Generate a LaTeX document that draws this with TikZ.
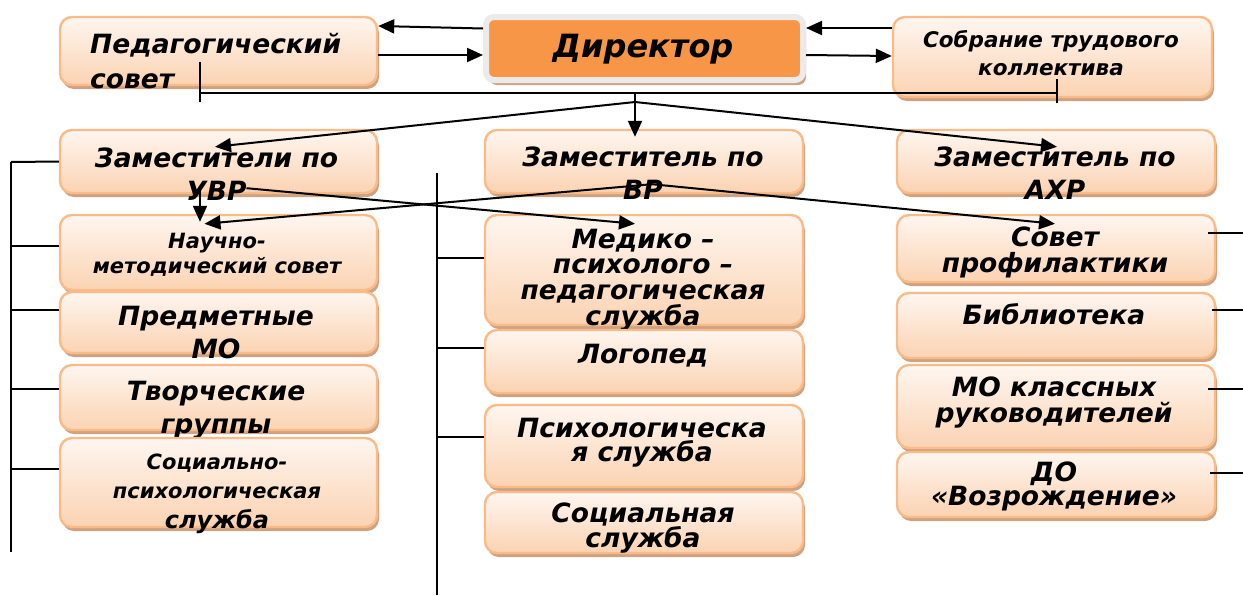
\documentclass[tikz,border=0pt]{standalone}
\usepackage{fontspec}
\setmainfont{DejaVu Sans}[ItalicFont={DejaVu Sans Oblique},BoldFont={DejaVu Sans Bold},BoldItalicFont={DejaVu Sans Bold Oblique}]
\usetikzlibrary{arrows.meta,calc,fit,shadows}
\definecolor{boxtop}{HTML}{FEF6F0}
\definecolor{boxbot}{HTML}{FBD3B2}
\definecolor{boxline}{HTML}{F9BC88}
\definecolor{boxshadow}{HTML}{CFA282}
\definecolor{dirfill}{HTML}{F79646}
\definecolor{dirframe}{HTML}{EBEBEB}
\newcommand\mlc[2]{\vtop{\baselineskip=#1pt\lineskiplimit=-100pt\halign{\hfil##\hfil\cr#2\crcr}}}
\newcommand\mll[2]{\vtop{\baselineskip=#1pt\lineskiplimit=-100pt\halign{##\hfil\cr#2\crcr}}}
\newcommand\fz[1]{\bfseries\itshape\fontsize{#1}{#1}\selectfont}
\tikzset{
  obox/.style={draw=boxline, line width=2.4pt, rounded corners=12pt, top color=boxtop, bottom color=boxbot, inner sep=0pt,
    drop shadow={shadow xshift=2pt, shadow yshift=-4pt, fill=boxshadow, opacity=1}},
  dirbox/.style={draw=dirframe, line width=6pt, fill=dirfill, rounded corners=8pt, inner sep=0pt,
    drop shadow={shadow xshift=3pt, shadow yshift=-5pt, fill=boxshadow, opacity=1}},
  lbl/.style={inner sep=0pt, anchor=base, text=black},
  conn/.style={line width=2pt, draw=black},
  arr/.style={conn, -{Triangle[length=16pt,width=14pt]}}
}
\begin{document}
\begin{tikzpicture}[x=1pt,y=-1pt]
\fill[white] (0,0) rectangle (1243,595);
\useasboundingbox (0,0) rectangle (1243,595);
% top row
\node[obox, fit={(60,17)(377,85)}] (ped) {};
\node[lbl, anchor=base west] (pedt) at (90,53) {\fz{26.5}\mll{35}{Педагогический\cr совет}};
\node[dirbox, fit={(486,17)(803,80)}] (dir) {};
\node[lbl] (dirt) at (643,57) {\fz{32}Директор};
\node[obox, fit={(893,17)(1212,97)}] (sob) {};
\node[lbl] (sobt) at (1051,47) {\fz{21.5}\mlc{28}{Собрание трудового\cr коллектива}};
% second row
\node[obox, fit={(60,130)(377,193)}] (zuvr) {};
\node[lbl] (zuvrt) at (216.5,167) {\fz{26.5}\mlc{33}{Заместители по\cr УВР}};
\node[obox, fit={(485,130)(803,193)}] (zvr) {};
\node[lbl] (zvrt) at (643,166) {\fz{26.5}\mlc{33}{Заместитель по\cr ВР}};
\node[obox, fit={(897,130)(1215,193)}] (zahr) {};
\node[lbl] (zahrt) at (1055,166) {\fz{26.5}\mlc{33}{Заместитель по\cr АХР}};
% left column
\node[obox, fit={(60,215)(377,290)}] (nmc) {};
\node[lbl] (nmct) at (217,248) {\fz{21}\mlc{25}{Научно-\cr методический совет}};
\node[obox, fit={(60,292)(377,353)}] (pmo) {};
\node[lbl] (pmot) at (216,325) {\fz{26.5}\mlc{33}{Предметные\cr МО}};
\node[obox, fit={(60,365)(377,430)}] (tvg) {};
\node[lbl] (tvgt) at (216,400) {\fz{26.5}\mlc{33}{Творческие\cr группы}};
\node[obox, fit={(60,438)(377,527)}] (sps) {};
\node[lbl] (spst) at (217,469) {\fz{21}\mlc{29.5}{Социально-\cr психологическая\cr {\fz{24}служба}}};
% middle column
\node[obox, fit={(485,215)(803,325)}] (med) {};
\node[lbl] (medt) at (643,248) {\fz{26.5}\mlc{25.7}{Медико –\cr психолого –\cr педагогическая\cr служба}};
\node[obox, fit={(485,330)(803,393)}] (log) {};
\node[lbl] (logt) at (643,363) {\fz{26.5}Логопед};
\node[obox, fit={(485,405)(803,487)}] (psy) {};
\node[lbl] (psyt) at (642,437) {\fz{26.5}\mlc{24.5}{Психологическа\cr я служба}};
\node[obox, fit={(485,492)(803,553)}] (soc) {};
\node[lbl] (soct) at (643,522) {\fz{26.5}\mlc{25}{Социальная\cr служба}};
% right column
\node[obox, fit={(897,215)(1215,282)}] (sovp) {};
\node[lbl] (sovpt) at (1055,246) {\fz{26.5}\mlc{26}{Совет\cr профилактики}};
\node[obox, fit={(897,293)(1215,358)}] (bib) {};
\node[lbl] (bibt) at (1054,324) {\fz{26.5}Библиотека};
\node[obox, fit={(897,365)(1215,448)}] (mok) {};
\node[lbl] (mokt) at (1054,396) {\fz{26.5}\mlc{26}{МО классных\cr руководителей}};
\node[obox, fit={(897,452)(1215,517)}] (do) {};
\node[lbl] (dot) at (1054,481) {\fz{26.5}\mlc{24.5}{ДО\cr «Возрождение»}};
% connectors top
\draw[arr] ($(dir.west)+(0,-20)$) -- ($(ped.east)+(0,-25)$);
\draw[arr] ($(ped.east)+(0,4)$) -- ($(dir.west)+(0,6.5)$);
\draw[arr] ($(sob.west)+(0,-29)$) -- ($(dir.east)+(0,-20.5)$);
\draw[arr] ($(dir.east)+(0,6.5)$) -- ($(sob.west)+(0,-1)$);
\coordinate (busL) at (200,93);
\coordinate (busR) at (1057,93);
\draw[conn] ($(ped.center)+(-18.5,11)$) -- ++(0,40);
\draw[conn] (busL) -- (busR);
\draw[conn] ($(sob.south)+(4.5,-19)$) -- ++(0,24);
\coordinate (fork) at (635,102);
\draw[arr] ($(dir.south)+(-9.5,10)$) -- ($(zvr.north)+(-9,8)$);
\draw[arr] (fork) -- ($(zuvr.north)+(-3.5,18)$);
\draw[arr] (fork) -- ($(zahr.north)+(1,18)$);
% deputies to services
\draw[arr] ($(zuvr.south)+(-18.5,-3)$) -- ($(nmc.north)+(-18.5,8)$);
\draw[arr] ($(zuvr.south)+(28,-6)$) -- ($(med.north)+(-9,10)$);
\draw[arr] ($(zvr.south)+(8,-10)$) -- ($(nmc.north)+(-14,10)$);
\draw[arr] ($(zvr.south)+(8,-10)$) -- ($(sovp.north)+(-1,10)$);
% left bus
\coordinate (lbT) at (11,162);
\coordinate (lbB) at (11,552);
\draw[conn] (lbT) -- (lbB);
\draw[conn] (zuvr.west) -- (lbT);
\draw[conn] ($(nmc.west)+(0,-6.5)$) -- ++(-48,0);
\draw[conn] ($(pmo.west)+(0,-13)$) -- ++(-48,0);
\draw[conn] ($(tvg.west)+(0,-8.5)$) -- ++(-48,0);
\draw[conn] ($(sps.west)+(0,-14)$) -- ++(-48,0);
% middle bus
\coordinate (mbT) at (437,173);
\coordinate (mbB) at (437,595);
\draw[conn] (mbT) -- (mbB);
\draw[conn] ($(med.west)+(0,-12)$) -- ++(-47,0);
\draw[conn] ($(log.west)+(0,-13.5)$) -- ++(-47,0);
\draw[conn] ($(psy.west)+(0,-9)$) -- ++(-47,0);
% right stubs
\draw[conn] ($(sovp.east)+(-8,-15.5)$) -- ++(35,0);
\draw[conn] ($(bib.east)+(-4,-16)$) -- ++(31,0);
\draw[conn] ($(mok.east)+(-8,-17.5)$) -- ++(35,0);
\draw[conn] ($(do.east)+(-6,-11.5)$) -- ++(33,0);
\end{tikzpicture}
\end{document}
